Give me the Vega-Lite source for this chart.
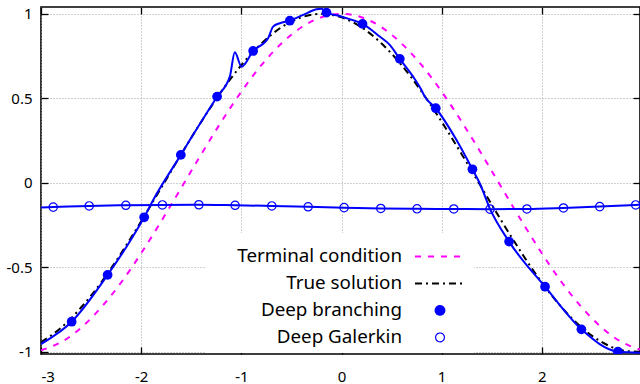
{
  "$schema": "https://vega.github.io/schema/vega-lite/v6.json",
  "width": 599,
  "height": 347,
  "autosize": {"type": "none"},
  "padding": {"left": 41, "top": 7, "right": 0, "bottom": 30},
  "background": "white",
  "config": {
    "view": {"stroke": "black", "strokeWidth": 1.6},
    "font": "Noto Sans",
    "axis": {
      "labelFont": "Noto Sans", "labelFontSize": 15, "labelColor": "black",
      "tickColor": "black", "tickWidth": 1.3, "tickSize": -7,
      "domain": false, "title": null,
      "gridColor": "#a0a0a0", "gridDash": [1, 2], "gridWidth": 1, "gridOpacity": 1
    }
  },
  "datasets": {
    "curves": [
      {"series": "Terminal condition", "x": -3.0, "y": -0.990},
      {"series": "Terminal condition", "x": -2.8, "y": -0.942},
      {"series": "Terminal condition", "x": -2.6, "y": -0.857},
      {"series": "Terminal condition", "x": -2.4, "y": -0.737},
      {"series": "Terminal condition", "x": -2.2, "y": -0.589},
      {"series": "Terminal condition", "x": -2.0, "y": -0.416},
      {"series": "Terminal condition", "x": -1.8, "y": -0.227},
      {"series": "Terminal condition", "x": -1.6, "y": -0.029},
      {"series": "Terminal condition", "x": -1.4, "y": 0.170},
      {"series": "Terminal condition", "x": -1.2, "y": 0.362},
      {"series": "Terminal condition", "x": -1.0, "y": 0.540},
      {"series": "Terminal condition", "x": -0.8, "y": 0.697},
      {"series": "Terminal condition", "x": -0.6, "y": 0.825},
      {"series": "Terminal condition", "x": -0.4, "y": 0.921},
      {"series": "Terminal condition", "x": -0.2, "y": 0.980},
      {"series": "Terminal condition", "x": 0.0, "y": 1.000},
      {"series": "Terminal condition", "x": 0.2, "y": 0.980},
      {"series": "Terminal condition", "x": 0.4, "y": 0.921},
      {"series": "Terminal condition", "x": 0.6, "y": 0.825},
      {"series": "Terminal condition", "x": 0.8, "y": 0.697},
      {"series": "Terminal condition", "x": 1.0, "y": 0.540},
      {"series": "Terminal condition", "x": 1.2, "y": 0.362},
      {"series": "Terminal condition", "x": 1.4, "y": 0.170},
      {"series": "Terminal condition", "x": 1.6, "y": -0.029},
      {"series": "Terminal condition", "x": 1.8, "y": -0.227},
      {"series": "Terminal condition", "x": 2.0, "y": -0.416},
      {"series": "Terminal condition", "x": 2.2, "y": -0.589},
      {"series": "Terminal condition", "x": 2.4, "y": -0.737},
      {"series": "Terminal condition", "x": 2.6, "y": -0.857},
      {"series": "Terminal condition", "x": 2.8, "y": -0.942},
      {"series": "Terminal condition", "x": 3.0, "y": -0.990},
      {"series": "True solution", "x": -3.0, "y": -0.942},
      {"series": "True solution", "x": -2.8, "y": -0.857},
      {"series": "True solution", "x": -2.6, "y": -0.737},
      {"series": "True solution", "x": -2.4, "y": -0.589},
      {"series": "True solution", "x": -2.2, "y": -0.416},
      {"series": "True solution", "x": -2.0, "y": -0.227},
      {"series": "True solution", "x": -1.8, "y": -0.029},
      {"series": "True solution", "x": -1.6, "y": 0.170},
      {"series": "True solution", "x": -1.4, "y": 0.362},
      {"series": "True solution", "x": -1.2, "y": 0.540},
      {"series": "True solution", "x": -1.0, "y": 0.697},
      {"series": "True solution", "x": -0.8, "y": 0.825},
      {"series": "True solution", "x": -0.6, "y": 0.921},
      {"series": "True solution", "x": -0.4, "y": 0.980},
      {"series": "True solution", "x": -0.2, "y": 1.000},
      {"series": "True solution", "x": 0.0, "y": 0.980},
      {"series": "True solution", "x": 0.2, "y": 0.921},
      {"series": "True solution", "x": 0.4, "y": 0.825},
      {"series": "True solution", "x": 0.6, "y": 0.697},
      {"series": "True solution", "x": 0.8, "y": 0.540},
      {"series": "True solution", "x": 1.0, "y": 0.362},
      {"series": "True solution", "x": 1.2, "y": 0.170},
      {"series": "True solution", "x": 1.4, "y": -0.029},
      {"series": "True solution", "x": 1.6, "y": -0.227},
      {"series": "True solution", "x": 1.8, "y": -0.416},
      {"series": "True solution", "x": 2.0, "y": -0.589},
      {"series": "True solution", "x": 2.2, "y": -0.737},
      {"series": "True solution", "x": 2.4, "y": -0.857},
      {"series": "True solution", "x": 2.6, "y": -0.942},
      {"series": "True solution", "x": 2.8, "y": -0.990},
      {"series": "True solution", "x": 3.0, "y": -0.998},
      {"series": "Deep branching", "x": -3.0, "y": -0.953},
      {"series": "Deep branching", "x": -2.694, "y": -0.821},
      {"series": "Deep branching", "x": -2.335, "y": -0.544},
      {"series": "Deep branching", "x": -2.146, "y": -0.377},
      {"series": "Deep branching", "x": -1.970, "y": -0.203},
      {"series": "Deep branching", "x": -1.880, "y": -0.101},
      {"series": "Deep branching", "x": -1.604, "y": 0.166},
      {"series": "Deep branching", "x": -1.514, "y": 0.254},
      {"series": "Deep branching", "x": -1.242, "y": 0.511},
      {"series": "Deep branching", "x": -1.115, "y": 0.629},
      {"series": "Deep branching", "x": -1.065, "y": 0.773},
      {"series": "Deep branching", "x": -0.998, "y": 0.688},
      {"series": "Deep branching", "x": -0.882, "y": 0.781},
      {"series": "Deep branching", "x": -0.733, "y": 0.856},
      {"series": "Deep branching", "x": -0.683, "y": 0.925},
      {"series": "Deep branching", "x": -0.616, "y": 0.945},
      {"series": "Deep branching", "x": -0.516, "y": 0.960},
      {"series": "Deep branching", "x": -0.383, "y": 0.994},
      {"series": "Deep branching", "x": -0.250, "y": 1.028},
      {"series": "Deep branching", "x": -0.200, "y": 1.031},
      {"series": "Deep branching", "x": -0.150, "y": 1.008},
      {"series": "Deep branching", "x": -0.017, "y": 0.988},
      {"series": "Deep branching", "x": 0.082, "y": 0.969},
      {"series": "Deep branching", "x": 0.210, "y": 0.941},
      {"series": "Deep branching", "x": 0.382, "y": 0.866},
      {"series": "Deep branching", "x": 0.482, "y": 0.817},
      {"series": "Deep branching", "x": 0.582, "y": 0.734},
      {"series": "Deep branching", "x": 0.715, "y": 0.629},
      {"series": "Deep branching", "x": 0.798, "y": 0.550},
      {"series": "Deep branching", "x": 0.831, "y": 0.511},
      {"series": "Deep branching", "x": 0.941, "y": 0.442},
      {"series": "Deep branching", "x": 1.148, "y": 0.254},
      {"series": "Deep branching", "x": 1.307, "y": 0.081},
      {"series": "Deep branching", "x": 1.380, "y": -0.002},
      {"series": "Deep branching", "x": 1.480, "y": -0.150},
      {"series": "Deep branching", "x": 1.673, "y": -0.347},
      {"series": "Deep branching", "x": 2.032, "y": -0.614},
      {"series": "Deep branching", "x": 2.395, "y": -0.866},
      {"series": "Deep branching", "x": 2.760, "y": -0.998},
      {"series": "Deep branching", "x": 2.980, "y": -1.004},
      {"series": "Deep Galerkin", "x": -3.0, "y": -0.145},
      {"series": "Deep Galerkin", "x": -2.878, "y": -0.143},
      {"series": "Deep Galerkin", "x": -2.519, "y": -0.136},
      {"series": "Deep Galerkin", "x": -2.153, "y": -0.132},
      {"series": "Deep Galerkin", "x": -1.788, "y": -0.130},
      {"series": "Deep Galerkin", "x": -1.424, "y": -0.129},
      {"series": "Deep Galerkin", "x": -1.062, "y": -0.132},
      {"series": "Deep Galerkin", "x": -0.696, "y": -0.136},
      {"series": "Deep Galerkin", "x": -0.333, "y": -0.141},
      {"series": "Deep Galerkin", "x": 0.026, "y": -0.146},
      {"series": "Deep Galerkin", "x": 0.392, "y": -0.151},
      {"series": "Deep Galerkin", "x": 0.754, "y": -0.153},
      {"series": "Deep Galerkin", "x": 1.121, "y": -0.154},
      {"series": "Deep Galerkin", "x": 1.483, "y": -0.155},
      {"series": "Deep Galerkin", "x": 1.851, "y": -0.154},
      {"series": "Deep Galerkin", "x": 2.216, "y": -0.148},
      {"series": "Deep Galerkin", "x": 2.578, "y": -0.140},
      {"series": "Deep Galerkin", "x": 2.937, "y": -0.130},
      {"series": "Deep Galerkin", "x": 2.980, "y": -0.129}
    ],
    "markers": [
      {"series": "Deep branching", "x": -2.694, "y": -0.821},
      {"series": "Deep branching", "x": -2.335, "y": -0.544},
      {"series": "Deep branching", "x": -1.970, "y": -0.203},
      {"series": "Deep branching", "x": -1.604, "y": 0.166},
      {"series": "Deep branching", "x": -1.242, "y": 0.511},
      {"series": "Deep branching", "x": -0.882, "y": 0.781},
      {"series": "Deep branching", "x": -0.516, "y": 0.960},
      {"series": "Deep branching", "x": -0.150, "y": 1.008},
      {"series": "Deep branching", "x": 0.210, "y": 0.941},
      {"series": "Deep branching", "x": 0.582, "y": 0.734},
      {"series": "Deep branching", "x": 0.941, "y": 0.442},
      {"series": "Deep branching", "x": 1.307, "y": 0.081},
      {"series": "Deep branching", "x": 1.673, "y": -0.347},
      {"series": "Deep branching", "x": 2.032, "y": -0.614},
      {"series": "Deep branching", "x": 2.395, "y": -0.866},
      {"series": "Deep branching", "x": 2.760, "y": -0.998},
      {"series": "Deep Galerkin", "x": -2.878, "y": -0.143},
      {"series": "Deep Galerkin", "x": -2.519, "y": -0.136},
      {"series": "Deep Galerkin", "x": -2.153, "y": -0.132},
      {"series": "Deep Galerkin", "x": -1.788, "y": -0.130},
      {"series": "Deep Galerkin", "x": -1.424, "y": -0.129},
      {"series": "Deep Galerkin", "x": -1.062, "y": -0.132},
      {"series": "Deep Galerkin", "x": -0.696, "y": -0.136},
      {"series": "Deep Galerkin", "x": -0.333, "y": -0.141},
      {"series": "Deep Galerkin", "x": 0.026, "y": -0.146},
      {"series": "Deep Galerkin", "x": 0.392, "y": -0.151},
      {"series": "Deep Galerkin", "x": 0.754, "y": -0.153},
      {"series": "Deep Galerkin", "x": 1.121, "y": -0.154},
      {"series": "Deep Galerkin", "x": 1.483, "y": -0.155},
      {"series": "Deep Galerkin", "x": 1.851, "y": -0.154},
      {"series": "Deep Galerkin", "x": 2.216, "y": -0.148},
      {"series": "Deep Galerkin", "x": 2.578, "y": -0.140},
      {"series": "Deep Galerkin", "x": 2.937, "y": -0.130}
    ]
  },
  "layer": [
    {
      "data": {"name": "curves"},
      "transform": [{"filter": "datum.series === 'Terminal condition'"}],
      "mark": {"type": "line", "interpolate": "natural", "strokeWidth": 2, "strokeDash": [6, 7], "clip": true},
      "encoding": {
        "x": {"field": "x", "type": "quantitative",
              "scale": {"domain": [-3, 2.98], "nice": false, "zero": false},
              "axis": {"orient": "bottom", "values": [-3, -2, -1, 0, 1, 2], "grid": true, "labelPadding": 22, "labelExpr": "'' + datum.value"}},
        "y": {"field": "y", "type": "quantitative",
              "scale": {"domain": [-1.012, 1.041], "nice": false, "zero": false},
              "axis": {"orient": "left", "values": [-1, -0.5, 0, 0.5, 1], "grid": true, "labelPadding": 16, "labelExpr": "'' + datum.value"}},
        "color": {"field": "series", "type": "nominal",
                  "scale": {"domain": ["Terminal condition", "True solution", "Deep branching", "Deep Galerkin"],
                            "range": ["#ff00ff", "#000000", "#0000ff", "#0000ff"]},
                  "legend": {
                    "orient": "none", "legendX": 164, "legendY": 226,
                    "title": " ", "titleFontSize": 9, "titlePadding": 0,
                    "padding": 5, "fillColor": "white",
                    "direction": "vertical",
                    "symbolSize": 16, "symbolStrokeWidth": 2, "symbolOffset": 220.6,
                    "labelOffset": -47.4, "labelAlign": "right",
                    "labelFont": "Noto Sans", "labelFontSize": 18.8, "labelColor": "black", "labelLimit": 400,
                    "rowPadding": 7,
                    "encode": {
                      "symbols": {
                        "update": {
                          "shape": {"signal": "datum.value === 'Terminal condition' || datum.value === 'True solution' ? 'M-12.5,0H12.5' : 'M-2.2,0A2.2,2.2,0,1,0,2.2,0A2.2,2.2,0,1,0,-2.2,0Z'"},
                          "stroke": {"signal": "datum.value === 'Terminal condition' ? '#ff00ff' : datum.value === 'True solution' ? '#000000' : '#0000ff'"},
                          "fill": {"signal": "datum.value === 'Deep branching' ? '#0000ff' : 'transparent'"},
                          "fillOpacity": {"signal": "datum.value === 'Deep branching' ? 1 : 0"},
                          "strokeDash": {"signal": "datum.value === 'Terminal condition' ? [6, 7] : datum.value === 'True solution' ? [7, 4, 2, 4] : [1, 0]"},
                          "strokeWidth": {"signal": "datum.value === 'Deep Galerkin' ? 1.2 : 2"},
                          "opacity": {"value": 1}
                        }
                      }
                    }
                  }}
      }
    },
    {
      "data": {"name": "curves"},
      "transform": [{"filter": "datum.series === 'True solution'"}],
      "mark": {"type": "line", "interpolate": "natural", "strokeWidth": 2, "strokeDash": [7, 4, 2, 4], "clip": true},
      "encoding": {
        "x": {"field": "x", "type": "quantitative", "axis": null},
        "y": {"field": "y", "type": "quantitative", "axis": null},
        "color": {"field": "series", "type": "nominal", "legend": null}
      }
    },
    {
      "data": {"name": "curves"},
      "transform": [{"filter": "datum.series === 'Deep branching' || datum.series === 'Deep Galerkin'"}],
      "mark": {"type": "line", "interpolate": "monotone", "strokeWidth": 2, "clip": true},
      "encoding": {
        "x": {"field": "x", "type": "quantitative", "axis": null},
        "y": {"field": "y", "type": "quantitative", "axis": null},
        "color": {"field": "series", "type": "nominal", "legend": null}
      }
    },
    {
      "data": {"name": "markers"},
      "transform": [{"filter": "datum.series === 'Deep branching'"}],
      "mark": {"type": "point", "shape": "circle", "filled": true, "size": 95, "opacity": 1, "clip": true},
      "encoding": {
        "x": {"field": "x", "type": "quantitative", "axis": null},
        "y": {"field": "y", "type": "quantitative", "axis": null},
        "color": {"field": "series", "type": "nominal", "legend": null}
      }
    },
    {
      "data": {"name": "markers"},
      "transform": [{"filter": "datum.series === 'Deep Galerkin'"}],
      "mark": {"type": "point", "shape": "circle", "filled": false, "size": 70, "strokeWidth": 1.2, "opacity": 1, "clip": true},
      "encoding": {
        "x": {"field": "x", "type": "quantitative",
              "axis": {"orient": "top", "values": [-3, -2, -1, 0, 1, 2, 3], "labels": false, "grid": false}},
        "y": {"field": "y", "type": "quantitative",
              "axis": {"orient": "right", "values": [-1, -0.5, 0, 0.5, 1], "labels": false, "grid": false}},
        "color": {"field": "series", "type": "nominal", "legend": null}
      }
    }
  ],
  "resolve": {"axis": {"x": "independent", "y": "independent"}}
}
